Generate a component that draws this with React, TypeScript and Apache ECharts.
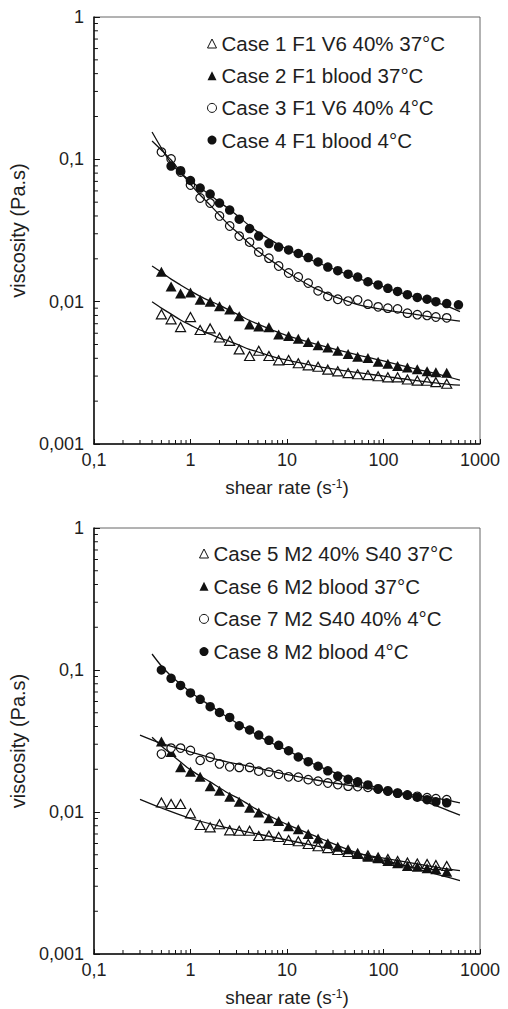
import React, { useEffect, useRef } from "react";
import * as echarts from "echarts";

// ---------- data ----------
const NAMES_TOP = [
  "Case 1 F1 V6 40% 37°C",
  "Case 2 F1 blood 37°C",
  "Case 3 F1 V6 40% 4°C",
  "Case 4 F1 blood 4°C",
];
const NAMES_BOT = [
  "Case 5 M2 40% S40 37°C",
  "Case 6 M2 blood 37°C",
  "Case 7 M2 S40 40% 4°C",
  "Case 8 M2 blood 4°C",
];

// shear rates of measured points
const X_PTS = [0.5, 0.63, 0.79, 1, 1.26, 1.6, 2, 2.55, 3.2, 4.1, 5.1, 6.5, 8.2, 10.4, 13.1, 16.6, 21, 26.5, 33.6, 43, 54, 69, 88, 111, 140, 177, 224, 283, 349, 452];
const X_PTS_C4 = [0.63, 0.79, 1, 1.26, 1.6, 2, 2.55, 3.2, 4.1, 5.1, 6.5, 8.2, 10.4, 13.1, 16.6, 21, 26.5, 33.6, 43, 54, 69, 88, 111, 140, 177, 224, 283, 349, 452, 598];

// top chart viscosities
const CASE1 = [0.00815, 0.00751, 0.00663, 0.00779, 0.00632, 0.00649, 0.0056, 0.0053, 0.00462, 0.00415, 0.00452, 0.00415, 0.00387, 0.00389, 0.00369, 0.00357, 0.00349, 0.00333, 0.00324, 0.00315, 0.00309, 0.00305, 0.00299, 0.00294, 0.00294, 0.00284, 0.00279, 0.00278, 0.00272, 0.00265];
const CASE2 = [0.0162, 0.0128, 0.0114, 0.0116, 0.0103, 0.01, 0.0093, 0.0088, 0.0079, 0.0069, 0.0067, 0.0066, 0.00588, 0.00573, 0.00548, 0.0052, 0.00495, 0.00477, 0.00452, 0.00429, 0.0041, 0.00402, 0.00378, 0.00366, 0.00353, 0.00345, 0.00335, 0.00324, 0.00319, 0.00317];
const CASE3 = [0.1125, 0.1005, 0.0814, 0.066, 0.0535, 0.0493, 0.04, 0.034, 0.0289, 0.0262, 0.0223, 0.0202, 0.0178, 0.0159, 0.0149, 0.0135, 0.0119, 0.0109, 0.0104, 0.0101, 0.0103, 0.0096, 0.0092, 0.009, 0.0089, 0.0083, 0.0081, 0.008, 0.0078, 0.0077];
const CASE4 = [0.0897, 0.0832, 0.071, 0.0628, 0.057, 0.0493, 0.044, 0.038, 0.0326, 0.0289, 0.0256, 0.0242, 0.0231, 0.0218, 0.0204, 0.019, 0.0175, 0.0165, 0.0156, 0.0149, 0.0138, 0.0131, 0.0124, 0.0118, 0.0112, 0.0107, 0.0104, 0.01, 0.0097, 0.0095];

// bottom chart viscosities
const CASE5 = [0.01167, 0.01138, 0.01138, 0.00979, 0.0081, 0.0078, 0.0082, 0.00743, 0.00738, 0.00738, 0.00678, 0.00684, 0.00667, 0.00635, 0.00622, 0.00595, 0.00574, 0.00557, 0.0054, 0.00523, 0.0051, 0.00494, 0.00478, 0.00467, 0.00452, 0.00441, 0.00434, 0.0043, 0.00423, 0.00417];
const CASE6 = [0.0314, 0.0265, 0.0207, 0.0192, 0.0177, 0.0152, 0.0141, 0.0128, 0.0118, 0.0107, 0.0099, 0.00903, 0.00864, 0.00793, 0.00757, 0.007, 0.0065, 0.00602, 0.0057, 0.00546, 0.00506, 0.00484, 0.00472, 0.00452, 0.00435, 0.00417, 0.00412, 0.00402, 0.00395, 0.0038];
const CASE7 = [0.0256, 0.0282, 0.0282, 0.0271, 0.0231, 0.0243, 0.0218, 0.0208, 0.0206, 0.0206, 0.0194, 0.0191, 0.0184, 0.0177, 0.0176, 0.0169, 0.0165, 0.016, 0.0156, 0.0152, 0.0151, 0.0149, 0.0145, 0.0141, 0.0136, 0.0132, 0.0129, 0.0126, 0.0124, 0.0122];
const CASE8 = [0.1, 0.0874, 0.0778, 0.0689, 0.0622, 0.0552, 0.0502, 0.0463, 0.0405, 0.0378, 0.0348, 0.032, 0.0295, 0.027, 0.0244, 0.0226, 0.021, 0.0195, 0.0179, 0.017, 0.0163, 0.0155, 0.0146, 0.014, 0.01355, 0.01312, 0.0127, 0.0122, 0.0118, 0.0116];

// fitted curves
const FIT_X_A = [0.4, 0.5, 0.63, 0.79, 1, 1.26, 1.6, 2, 2.5, 3.2, 4, 5, 6.3, 8, 10, 20, 50, 100, 200, 400, 620];
const FIT_X_B = [0.3, 0.5, 1, 2, 5, 10, 20, 50, 100, 200, 400, 620];
const FIT1 = [0.00998, 0.00901, 0.00818, 0.00743, 0.00685, 0.00632, 0.00592, 0.00555, 0.00529, 0.00495, 0.00464, 0.00443, 0.00421, 0.00401, 0.00389, 0.00353, 0.0032, 0.003, 0.00281, 0.00266, 0.00259];
const FIT2 = [0.0178, 0.0161, 0.0144, 0.0131, 0.0119, 0.0109, 0.0101, 0.00946, 0.00873, 0.00805, 0.00743, 0.00696, 0.00652, 0.00611, 0.00578, 0.00504, 0.00428, 0.00383, 0.00341, 0.00305, 0.00281];
const FIT3 = [0.1345, 0.1162, 0.0989, 0.0814, 0.067, 0.0561, 0.0477, 0.0406, 0.0345, 0.0299, 0.0258, 0.0227, 0.0202, 0.0181, 0.0161, 0.0123, 0.0097, 0.0088, 0.0082, 0.0076, 0.0073];
const FIT4 = [0.1555, 0.12, 0.0942, 0.0801, 0.0704, 0.0629, 0.0561, 0.0501, 0.0448, 0.0393, 0.0345, 0.0308, 0.028, 0.0254, 0.0234, 0.019, 0.0149, 0.0127, 0.0109, 0.0096, 0.0085];
const FIT5 = [0.01228, 0.01067, 0.009, 0.00796, 0.007, 0.00635, 0.00577, 0.00514, 0.00474, 0.00437, 0.00403, 0.00386];
const FIT6 = [0.0336, 0.0292, 0.0256, 0.0225, 0.0198, 0.0179, 0.0163, 0.0148, 0.0135, 0.0124, 0.0113, 0.0103, 0.0095, 0.00879, 0.00817, 0.00672, 0.00523, 0.00459, 0.00406, 0.00357, 0.00329];
const FIT7 = [0.0348, 0.0304, 0.0265, 0.0232, 0.0204, 0.0184, 0.0168, 0.0152, 0.0142, 0.0132, 0.0123, 0.0116];
const FIT8 = [0.1296, 0.1067, 0.0907, 0.0797, 0.07, 0.0625, 0.0562, 0.0506, 0.0459, 0.0413, 0.0378, 0.0346, 0.0316, 0.0292, 0.0273, 0.0214, 0.0168, 0.0144, 0.0128, 0.0107, 0.0095];

// axes
const X_MIN = 0.1;
const X_MAX = 1000;
const Y_MIN = 0.001;
const Y_MAX = 1;
const X_MINOR_TICKS = [0.2, 0.3, 0.4, 0.5, 0.6, 0.7, 0.8, 0.9, 2, 3, 4, 5, 6, 7, 8, 9, 20, 30, 40, 50, 60, 70, 80, 90, 200, 300, 400, 500, 600, 700, 800, 900];
const Y_MINOR_TICKS = [0.002, 0.003, 0.004, 0.005, 0.006, 0.007, 0.008, 0.009, 0.02, 0.03, 0.04, 0.05, 0.06, 0.07, 0.08, 0.09, 0.2, 0.3, 0.4, 0.5, 0.6, 0.7, 0.8, 0.9];

// ---------- styles ----------
const FONT = "'Liberation Sans', Arial, Helvetica, sans-serif";
const INK = "#111";
const TEXT = "#1e1e1e";

const zip = (xs: number[], ys: number[]) => ys.map((y, i) => [xs[i], y]);
const fmt = (v: number) => String(Number(v.toPrecision(3))).replace(".", ",");

const MARKERS = [
  { symbol: "triangle", size: [10, 9], style: { color: "#fff", borderColor: INK, borderWidth: 1.2, opacity: 1 } },
  { symbol: "triangle", size: [11, 10], style: { color: INK, borderWidth: 0, opacity: 1 } },
  { symbol: "circle", size: 8.5, style: { color: "#fff", borderColor: INK, borderWidth: 1.2, opacity: 1 } },
  { symbol: "circle", size: 9.5, style: { color: INK, borderWidth: 0, opacity: 1 } },
];

function buildOption() {
  const gridIdx = [0, 1];
  const names = [NAMES_TOP, NAMES_BOT];
  const pts = [
    [zip(X_PTS, CASE1), zip(X_PTS, CASE2), zip(X_PTS, CASE3), zip(X_PTS_C4, CASE4)],
    [zip(X_PTS, CASE5), zip(X_PTS, CASE6), zip(X_PTS, CASE7), zip(X_PTS, CASE8)],
  ];
  const fits = [
    [zip(FIT_X_A, FIT1), zip(FIT_X_A, FIT2), zip(FIT_X_A, FIT3), zip(FIT_X_A, FIT4)],
    [zip(FIT_X_B, FIT5), zip(FIT_X_A, FIT6), zip(FIT_X_B, FIT7), zip(FIT_X_A, FIT8)],
  ];

  const series: any[] = [];
  gridIdx.forEach((g) => {
    names[g].forEach((n, i) => {
      const m = MARKERS[i];
      series.push({
        type: "scatter",
        name: n,
        xAxisIndex: g,
        yAxisIndex: g,
        symbol: m.symbol,
        symbolSize: m.size,
        itemStyle: m.style,
        data: pts[g][i],
        z: 3,
        silent: true,
      });
    });
    fits[g].forEach((d, i) => {
      series.push({
        type: "line",
        name: "fit" + (g * 4 + i + 1),
        xAxisIndex: g,
        yAxisIndex: g,
        data: d,
        showSymbol: false,
        symbol: "none",
        smooth: 0.3,
        lineStyle: { color: INK, width: 1.3 },
        z: 4,
        silent: true,
      });
    });
    series.push({
      type: "custom",
      xAxisIndex: g,
      yAxisIndex: g,
      silent: true,
      clip: false,
      z: 6,
      encode: { x: 0, y: 1 },
      data: X_MINOR_TICKS.map((v) => [v, Y_MIN]),
      renderItem: (_p: any, api: any) => {
        const p = api.coord([api.value(0), api.value(1)]);
        return { type: "line", shape: { x1: p[0], y1: p[1], x2: p[0], y2: p[1] - 4 }, style: { stroke: INK, lineWidth: 1 } };
      },
    });
    series.push({
      type: "custom",
      xAxisIndex: g,
      yAxisIndex: g,
      silent: true,
      clip: false,
      z: 6,
      encode: { x: 0, y: 1 },
      data: Y_MINOR_TICKS.map((v) => [X_MIN, v]),
      renderItem: (_p: any, api: any) => {
        const p = api.coord([api.value(0), api.value(1)]);
        return { type: "line", shape: { x1: p[0], y1: p[1], x2: p[0] + 4, y2: p[1] }, style: { stroke: INK, lineWidth: 1 } };
      },
    });
  });

  const grids = [
    { left: 87, top: 17, width: 393, height: 427 },
    { left: 87, top: 528, width: 393, height: 426 },
  ];

  const xAxis = gridIdx.map((g) => ({
    type: "log",
    logBase: 10,
    gridIndex: g,
    min: X_MIN,
    max: X_MAX,
    name: "{a|shear rate (s}{b|-1}{a|)}",
    nameLocation: "middle",
    nameGap: 34,
    nameTextStyle: {
      rich: {
        a: { fontSize: 19, color: TEXT, fontFamily: FONT },
        b: { fontSize: 12, color: TEXT, fontFamily: FONT, verticalAlign: "top" },
      },
    },
    axisLine: { lineStyle: { color: INK, width: 1.5 } },
    axisTick: { inside: true, length: 5, lineStyle: { color: INK, width: 1 } },
    axisLabel: { fontSize: 18, color: TEXT, fontFamily: FONT, margin: 7, formatter: fmt },
    splitLine: { show: false },
  }));

  const yAxis = gridIdx.map((g) => ({
    type: "log",
    logBase: 10,
    gridIndex: g,
    min: Y_MIN,
    max: Y_MAX,
    name: "viscosity (Pa.s)",
    nameLocation: "middle",
    nameGap: 53,
    nameTextStyle: { fontSize: 20, color: TEXT, fontFamily: FONT },
    axisLine: { lineStyle: { color: INK, width: 1.5 } },
    axisTick: { inside: true, length: 6, lineStyle: { color: INK, width: 1 } },
    axisLabel: { fontSize: 18, color: TEXT, fontFamily: FONT, margin: 10, formatter: fmt },
    splitLine: { show: false },
  }));

  const legendItem = (n: string, i: number) => ({
    name: n,
    icon: i < 2 ? "triangle" : "circle",
    itemStyle:
      i % 2 === 0
        ? { color: "#fff", borderColor: INK, borderWidth: 1, opacity: 1 }
        : { color: INK, borderWidth: 0, opacity: 1 },
  });

  const legend = [
    { left: 207, top: 33, itemGap: 11.2, data: NAMES_TOP.map(legendItem) },
    { left: 199, top: 543, itemGap: 11.7, data: NAMES_BOT.map(legendItem) },
  ].map((l) => ({
    ...l,
    orient: "vertical",
    padding: 0,
    itemWidth: 9,
    itemHeight: 9,
    selectedMode: false,
    textStyle: { fontSize: 20.5, lineHeight: 20, color: TEXT, fontFamily: FONT },
  }));

  return {
    animation: false,
    backgroundColor: "#fff",
    grid: grids.map((gr) => ({ ...gr, show: true, borderColor: "#666", borderWidth: 1, backgroundColor: "transparent" })),
    xAxis,
    yAxis,
    legend,
    series,
  };
}

export default function App() {
  const ref = useRef<HTMLDivElement>(null);
  useEffect(() => {
    document.body.style.margin = "0";
    if (!ref.current) return;
    const chart = echarts.init(ref.current, undefined, { renderer: "svg" });
    chart.setOption(buildOption() as any);
    return () => chart.dispose();
  }, []);
  return <div ref={ref} style={{ width: 508, height: 1009, background: "#fff" }} />;
}
